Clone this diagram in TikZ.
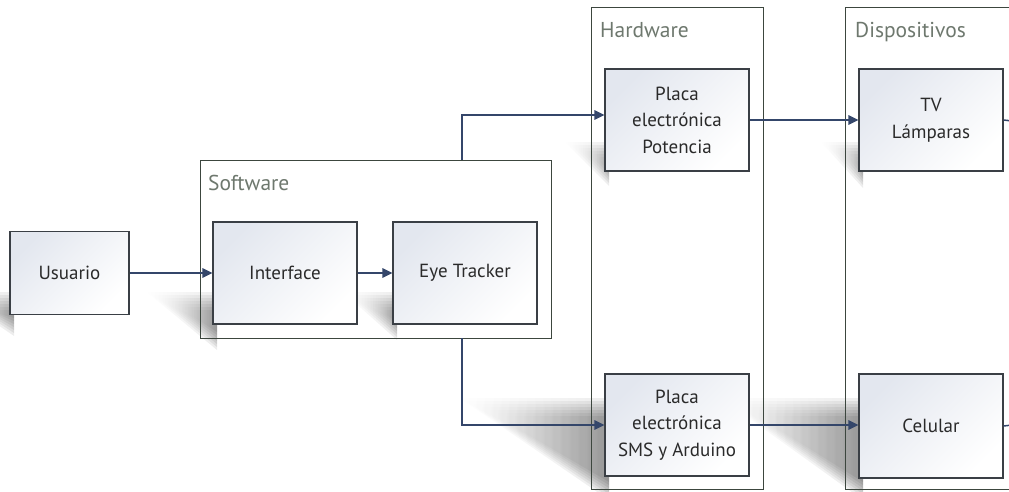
\documentclass[tikz,border=0pt]{standalone}
\usepackage{fontspec}
\setmainfont{PT Sans}
\usetikzlibrary{arrows.meta,calc}
\definecolor{boxline}{HTML}{3A3F45}
\definecolor{contline}{HTML}{3C463E}
\definecolor{arrowc}{HTML}{34466A}
\definecolor{labelc}{HTML}{6E786E}
\definecolor{boxtint}{HTML}{E3E7EF}
\definecolor{txt}{HTML}{2A2A2A}
\tikzset{
  blockbox/.style={draw=boxline, line width=1.2pt, top color=boxtint, bottom color=white,
    shading angle=45, minimum width=144pt, minimum height=102pt, inner sep=0pt,
    align=center, font=\fontsize{19}{26.5}\selectfont, text=txt},
  container/.style={draw=contline, line width=1pt},
  grouplabel/.style={anchor=base west, inner sep=0pt, font=\fontsize{21.5}{24}\selectfont, text=labelc},
  conn/.style={draw=arrowc, line width=1.5pt, -{Triangle[length=10pt,width=9.5pt]}},
  plainconn/.style={draw=arrowc, line width=1.5pt},
  shadowlayer/.style={left color=white, right color=black, draw=none, opacity=0.07},
}
\newcommand{\castshadow}[4]{%
  \foreach \d in {0,3,...,18}{%
    \shade[shadowlayer] (#1+4,#2+\d) -- (#1-#3+2*\d,#2+\d) -- (#1+4,#4-\d) -- cycle;}}
\begin{document}
\begin{tikzpicture}[x=1pt,y=-1pt]
\useasboundingbox (0,0) rectangle (1009,491);
\clip (0,0) rectangle (1009,491);
\fill[white] (0,0) rectangle (1009,491);
% shadows
\castshadow{10}{292}{60}{336}
\castshadow{213}{292}{66}{350}
\castshadow{393}{292}{50}{340}
\castshadow{605}{142}{40}{186}
\castshadow{605}{398}{145}{500}
\castshadow{859}{142}{38}{188}
\castshadow{859}{398}{138}{500}
% containers
\draw[container] (200,160) rectangle (551,338);
\draw[container] (591,7) rectangle (763,489);
\draw[container] (845,7) rectangle (1040,489);
\node[grouplabel] (lsw) at (208,190) {Software};
\node[grouplabel] (lhw) at (600,37) {Hardware};
\node[grouplabel] (ldv) at (855,37) {Dispositivos};
% blocks
\node[blockbox, minimum width=119pt, minimum height=83pt] (usr) at (69.5,273) {Usuario};
\node[blockbox] (intf) at (285,273) {Interface};
\node[blockbox] (eye) at (465,273) {Eye Tracker};
\node[blockbox] (pot) at (677,120) {Placa\\electrónica\\Potencia};
\node[blockbox] (sms) at (677,425) {Placa\\electrónica\\SMS y Arduino};
\node[blockbox] (tv) at (931,120) {TV\\Lámparas};
\node[blockbox, minimum height=104pt] (cel) at (931,426) {Celular};
% connectors
\coordinate (swtop) at (462,160);
\coordinate (swbot) at (462,338);
\coordinate (tvout) at (1012,121);
\coordinate (celout) at (1012,425);
\draw[conn] (usr.east) -- (intf.west);
\draw[conn] (intf.east) -- (eye.west);
\draw[conn] (swtop) |- ($(pot.west)+(0,-5)$);
\draw[conn] (swbot) |- (sms.west);
\draw[conn] (pot.east) -- (tv.west);
\draw[conn] (sms.east) -- (cel.west |- sms.east);
\draw[plainconn] (tv.east) -- (tvout);
\draw[plainconn] (cel.east) -- (celout);
\end{tikzpicture}
\end{document}
